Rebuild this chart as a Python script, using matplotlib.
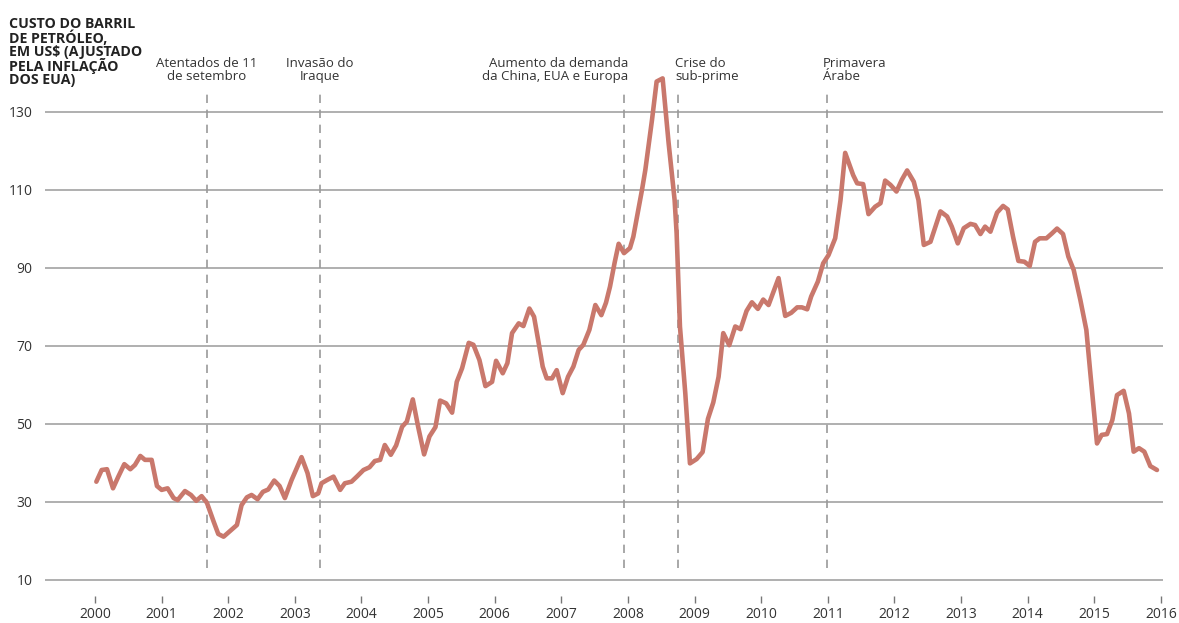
#!/usr/bin/env python3

import matplotlib
matplotlib.use("Agg")
import matplotlib.pyplot as plt

# custo do barril (US$ ajustado pela inflacao)
years = [
    2000.02, 2000.10, 2000.18, 2000.27, 2000.35, 2000.44, 2000.53, 2000.60, 2000.68, 2000.75,
    2000.85, 2000.93, 2001.00, 2001.09, 2001.18, 2001.24, 2001.35, 2001.44, 2001.52, 2001.60,
    2001.68, 2001.78, 2001.85, 2001.93, 2002.03, 2002.13, 2002.20, 2002.28, 2002.35, 2002.44,
    2002.52, 2002.60, 2002.69, 2002.77, 2002.85, 2002.95, 2003.10, 2003.19, 2003.27, 2003.35,
    2003.40, 2003.48, 2003.58, 2003.68, 2003.75, 2003.85, 2003.93, 2004.03, 2004.12, 2004.20,
    2004.28, 2004.35, 2004.44, 2004.52, 2004.61, 2004.68, 2004.77, 2004.85, 2004.94, 2005.02,
    2005.11, 2005.18, 2005.27, 2005.36, 2005.43, 2005.51, 2005.61, 2005.68, 2005.77, 2005.86,
    2005.96, 2006.02, 2006.12, 2006.19, 2006.26, 2006.36, 2006.43, 2006.52, 2006.59, 2006.66,
    2006.72, 2006.78, 2006.86, 2006.93, 2007.02, 2007.10, 2007.18, 2007.26, 2007.33, 2007.42,
    2007.51, 2007.60, 2007.67, 2007.73, 2007.80, 2007.86, 2007.94, 2008.03, 2008.08, 2008.21,
    2008.26, 2008.36, 2008.43, 2008.52, 2008.61, 2008.70, 2008.73, 2008.78, 2008.86, 2008.93,
    2009.03, 2009.12, 2009.20, 2009.28, 2009.36, 2009.43, 2009.52, 2009.61, 2009.69, 2009.78,
    2009.86, 2009.95, 2010.03, 2010.11, 2010.26, 2010.36, 2010.45, 2010.54, 2010.61, 2010.69,
    2010.75, 2010.85, 2010.93, 2011.01, 2011.11, 2011.19, 2011.26, 2011.38, 2011.44, 2011.53,
    2011.61, 2011.71, 2011.79, 2011.86, 2011.94, 2012.03, 2012.11, 2012.19, 2012.29, 2012.36,
    2012.44, 2012.54, 2012.69, 2012.79, 2012.86, 2012.95, 2013.04, 2013.14, 2013.21, 2013.29,
    2013.36, 2013.44, 2013.54, 2013.63, 2013.70, 2013.78, 2013.86, 2013.95, 2014.03, 2014.11,
    2014.18, 2014.28, 2014.36, 2014.44, 2014.53, 2014.61, 2014.69, 2014.79, 2014.88, 2014.94,
    2015.04, 2015.11, 2015.19, 2015.27, 2015.34, 2015.44, 2015.52, 2015.59, 2015.67, 2015.75,
    2015.84, 2015.94,
]
prices = [
    35.2, 38.2, 38.4, 33.5, 36.5, 39.7, 38.4, 39.5, 41.8, 40.8,
    40.8, 34.1, 33.1, 33.5, 31.0, 30.5, 32.8, 31.8, 30.3, 31.5,
    29.8, 25.0, 21.8, 21.1, 22.6, 24.1, 29.2, 31.2, 31.8, 30.7,
    32.6, 33.2, 35.5, 34.1, 31.0, 35.6, 41.5, 37.4, 31.5, 32.2,
    34.8, 35.6, 36.5, 33.1, 34.8, 35.2, 36.5, 38.2, 38.9, 40.5,
    40.8, 44.6, 42.1, 44.5, 49.3, 50.6, 56.3, 49.3, 42.2, 46.8,
    49.2, 56.0, 55.3, 52.9, 60.8, 64.3, 70.8, 70.3, 66.4, 59.7,
    60.8, 66.2, 63.0, 65.6, 73.3, 75.8, 75.1, 79.6, 77.5, 70.7,
    64.7, 61.7, 61.7, 63.8, 57.9, 62.1, 64.7, 69.0, 70.3, 74.1,
    80.5, 77.9, 81.1, 85.2, 91.4, 96.2, 93.8, 95.1, 98.0, 110.0,
    115.1, 127.9, 137.8, 138.6, 122.0, 107.4, 98.9, 75.0, 57.9, 39.9,
    41.0, 42.8, 51.3, 55.5, 62.1, 73.3, 70.2, 75.0, 74.3, 79.0,
    81.2, 79.5, 81.9, 80.5, 87.4, 77.7, 78.5, 79.9, 79.9, 79.4,
    82.7, 86.5, 91.2, 93.3, 97.6, 107.4, 119.5, 113.8, 111.7, 111.5,
    103.8, 105.7, 106.6, 112.4, 111.3, 109.6, 112.6, 115.0, 112.1, 107.4,
    95.9, 96.7, 104.5, 103.2, 100.6, 96.3, 100.2, 101.3, 101.0, 98.7,
    100.6, 99.3, 104.2, 105.9, 105.0, 98.0, 91.8, 91.6, 90.5, 96.7,
    97.6, 97.6, 98.8, 100.1, 98.7, 92.9, 89.5, 81.8, 74.1, 63.0,
    45.0, 47.2, 47.4, 51.0, 57.4, 58.5, 52.7, 42.9, 43.8, 42.9,
    39.2, 38.2,
]

# eventos marcados com linhas tracejadas
event_years = [2001.68, 2003.38, 2007.94, 2008.75, 2010.99]
event_labels = [
    "Atentados de 11\nde setembro",
    "Invasão do\nIraque",
    "Aumento da demanda\nda China, EUA e Europa",
    "Crise do\nsub-prime",
    "Primavera\nÁrabe",
]
event_align = ["center", "center", "right", "left", "left"]
event_offset = [0.0, 0.0, 0.07, -0.04, -0.07]

yticks = [10, 30, 50, 70, 90, 110, 130]
xticks = list(range(2000, 2017))

title = "CUSTO DO BARRIL\nDE PETRÓLEO,\nEM US$ (AJUSTADO\nPELA INFLAÇÃO\nDOS EUA)"

plt.rcParams['font.family'] = ['Open Sans', 'DejaVu Sans']

fig = plt.figure(figsize=(11.79, 6.23), dpi=100)
ax = fig.add_axes([0.0382, 0.0321, 0.9482, 0.9679])

grey = "#9a9a9a"
txt = "#333333"

for v in yticks:
    ax.axhline(v, color=grey, lw=1.1, zorder=1)

for x, lab, ha, off in zip(event_years, event_labels, event_align, event_offset):
    ax.plot([x, x], [13.1, 135.1], color=grey, lw=1.2, ls=(0, (5, 4)), zorder=2)
    ax.text(x + off, 137.3, lab, ha=ha, va="bottom", fontsize=9.5,
            color=txt, linespacing=1.05, multialignment=ha)

ax.plot(years, prices, color="#c9786c", lw=3.3, solid_joinstyle="round",
        solid_capstyle="round", zorder=3)

ax.set_xlim(1999.25, 2016.03)
ax.set_ylim(4.1, 158.7)
ax.set_yticks(yticks)
ax.set_xticks(xticks)
ax.set_xticklabels([str(x) for x in xticks])

for s in ax.spines.values():
    s.set_visible(False)

ax.tick_params(axis="y", length=0, pad=9, labelsize=10, labelcolor=txt)
ax.tick_params(axis="x", direction="in", length=5, width=1, color="#777777",
               pad=3, labelsize=10, labelcolor=txt)

fig.text(0.008, 0.972, title, ha="left", va="top", fontsize=10.2,
         fontweight="bold", color="#222222", linespacing=0.92)

fig.savefig("out.png", dpi=100)
